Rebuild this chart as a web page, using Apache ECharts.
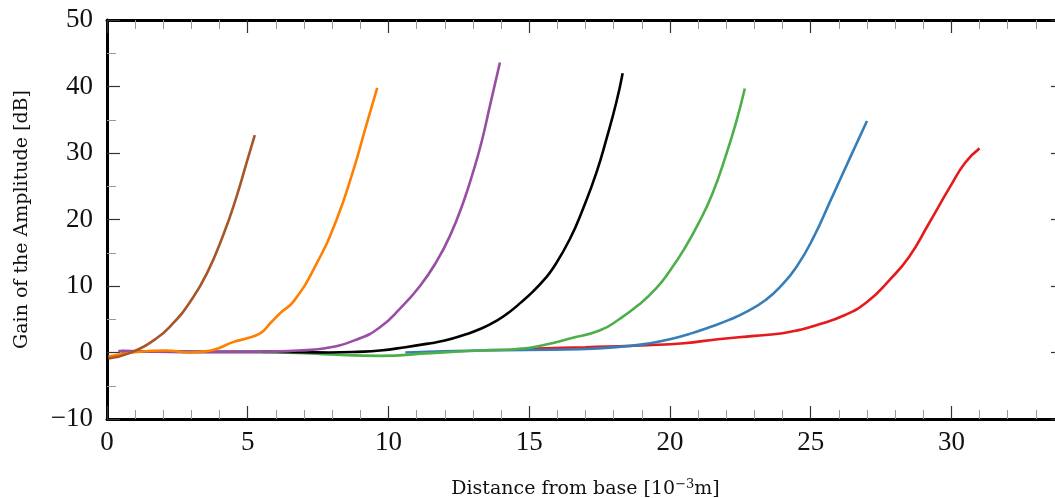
<!DOCTYPE html>
<html>
<head>
<meta charset="utf-8">
<script src="https://cdn.jsdelivr.net/npm/echarts@6/dist/echarts.min.js"></script>
<style>html,body{margin:0;padding:0;background:#fff}#c{width:1055px;height:498px}</style>
</head>
<body>
<div id="c"></div>
<script>
// Axis settings
var xTicks = [0, 5, 10, 15, 20, 25, 30];
var yTicks = [-10, 0, 10, 20, 30, 40, 50];

// Series data: [distance (10^-3 m), gain (dB)]
var redData = [[14.5,0.5],[15.3,0.6],[17.0,0.8],[19.2,1.1],[20.5,1.4],[21.7,2.0],[23.0,2.5],[24.0,2.9],[24.6,3.4],[25.2,4.1],[26.2,5.6],[27.0,7.6],[27.8,10.9],[28.5,14.4],[29.2,19.4],[29.95,24.9],[30.5,28.6],[31.0,30.7]];
var blueData = [[10.6,0.0],[13.25,0.3],[16.8,0.5],[18.6,1.0],[19.3,1.4],[20.0,2.0],[20.7,2.8],[21.4,3.8],[22.1,4.9],[22.8,6.3],[23.4,7.9],[23.9,9.8],[24.5,12.9],[25.1,17.3],[25.7,22.8],[26.4,29.3],[27.0,34.8]];
var greenData = [[5.5,0.1],[7.0,-0.1],[7.9,-0.3],[9.7,-0.5],[11.5,-0.1],[13.25,0.3],[14.8,0.6],[15.6,1.2],[16.45,2.1],[17.5,3.3],[18.2,5.0],[18.9,7.2],[19.5,9.6],[20.0,12.3],[20.5,15.5],[21.0,19.3],[21.5,23.8],[22.0,29.8],[22.35,34.6],[22.66,39.7]];
var blackData = [[0.5,0.2],[3.0,0.1],[6.0,0.1],[7.9,0.0],[8.9,0.1],[9.7,0.3],[10.6,0.8],[11.5,1.4],[12.0,1.8],[12.65,2.6],[13.3,3.6],[13.85,4.8],[14.3,6.1],[14.7,7.5],[15.14,9.2],[15.5,10.8],[15.85,12.7],[16.45,17.1],[16.92,21.7],[17.4,27.2],[17.75,32.2],[18.1,37.7],[18.32,42.0]];
var purpleData = [[0.4,0.2],[3.0,0.1],[5.5,0.1],[6.8,0.3],[7.7,0.6],[8.9,2.0],[9.7,3.8],[10.41,6.6],[11.12,10.0],[11.71,13.7],[12.18,17.5],[12.66,22.6],[13.01,27.2],[13.31,31.7],[13.61,37.2],[13.96,43.6]];
var orangeData = [[0.05,-0.6],[0.9,0.0],[2.1,0.3],[2.95,0.0],[3.3,0.1],[3.8,0.4],[4.5,1.6],[4.95,2.1],[5.45,2.9],[5.8,4.4],[6.15,5.9],[6.65,7.8],[7.45,13.4],[8.15,19.9],[8.75,27.4],[9.2,34.0],[9.6,39.8]];
var brownData = [[0.05,-0.9],[0.8,-0.1],[1.75,2.1],[2.35,4.4],[2.95,7.6],[3.55,11.9],[4.15,17.9],[4.6,23.4],[4.95,28.4],[5.25,32.7]];

var seriesNames = ['red','blue','green','black','purple','orange','brown'];
var seriesColors = ['#e41a1c','#377eb8','#4daf4a','#000000','#984ea3','#ff7f00','#a65628'];
var seriesData = [redData, blueData, greenData, blackData, purpleData, orangeData, brownData];

var tickFont = 'Liberation Serif';
var nameFont = 'DejaVu Serif';

function fmt(v){ return String(v).replace('-', '\u2212'); }

var axisCommon = {
  axisTick: {show: true, inside: true, length: 13, lineStyle: {color: '#333', width: 1.2}},
  minorTick: {show: true, length: 9, lineStyle: {color: '#999', width: 1}},
  splitLine: {show: false},
  minorSplitLine: {show: false}
};

var chart = echarts.init(document.getElementById('c'), null, {renderer: 'canvas'});
chart.setOption({
  animation: false,
  backgroundColor: '#fff',
  grid: {left: 107, top: 20, width: 957, height: 399, containLabel: false, outerBoundsMode: 'none'},
  xAxis: [
    Object.assign({}, axisCommon, {
      type: 'value', min: 0, max: 34, interval: 5, position: 'bottom',
      minorTick: Object.assign({}, axisCommon.minorTick, {splitNumber: 5}),
      axisLine: {show: true, onZero: false, lineStyle: {color: '#000', width: 3}},
      axisLabel: {show: true, margin: 10, fontFamily: tickFont, fontSize: 27, color: '#111',
        customValues: xTicks, formatter: fmt},
      name: 'Distance from base [10{sup|\u22123}m]',
      nameLocation: 'middle', nameGap: 59,
      nameTextStyle: {fontFamily: nameFont, fontSize: 19, color: '#111',
        rich: {sup: {fontFamily: nameFont, fontSize: 13, color: '#111', verticalAlign: 'top', padding: [0, 0, 10, 0]}}}
    }),
    Object.assign({}, axisCommon, {
      type: 'value', min: 0, max: 34, interval: 5, position: 'top',
      minorTick: Object.assign({}, axisCommon.minorTick, {splitNumber: 5}),
      axisLine: {show: true, onZero: false, lineStyle: {color: '#000', width: 3}},
      axisLabel: {show: false}
    })
  ],
  yAxis: [
    Object.assign({}, axisCommon, {
      type: 'value', min: -10, max: 50, interval: 10, position: 'left',
      minorTick: Object.assign({}, axisCommon.minorTick, {splitNumber: 2}),
      axisLine: {show: true, onZero: false, lineStyle: {color: '#000', width: 3}},
      axisLabel: {show: true, margin: 14, fontFamily: tickFont, fontSize: 27, color: '#111',
        customValues: yTicks, formatter: fmt},
      name: 'Gain of the Amplitude [dB]',
      nameLocation: 'middle', nameGap: 75,
      nameTextStyle: {fontFamily: nameFont, fontSize: 19, color: '#111'}
    }),
    Object.assign({}, axisCommon, {
      type: 'value', min: -10, max: 50, interval: 10, position: 'right',
      minorTick: Object.assign({}, axisCommon.minorTick, {splitNumber: 2}),
      axisLine: {show: true, onZero: false, lineStyle: {color: '#000', width: 3}},
      axisLabel: {show: false}
    })
  ],
  series: seriesNames.map(function(n, i){
    return {
      name: n, type: 'line', data: seriesData[i], smooth: 0.5,
      showSymbol: false, symbol: 'none', clip: true,
      lineStyle: {color: seriesColors[i], width: 2.6},
      itemStyle: {color: seriesColors[i]},
      xAxisIndex: 0, yAxisIndex: 0
    };
  })
});
</script>
</body>
</html>
